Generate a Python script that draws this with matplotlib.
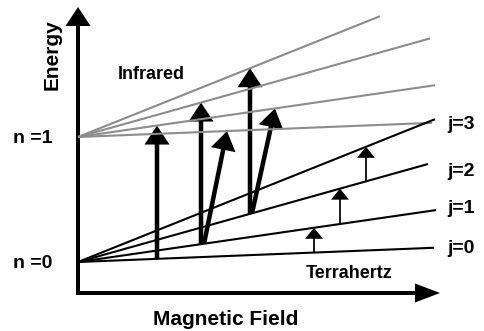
import matplotlib.pyplot as plt

# Zeeman-like fan of levels: E = n + slope[j] * B
n_levels = [0, 1]
j_values = [0, 1, 2, 3]
slopes = [0.04, 0.145, 0.28, 0.40]
# field at which each line stops (n=0 black, n=1 grey)
end_n0 = [2.848, 2.864, 2.80, 2.856]
end_n1 = [2.832, 2.856, 2.816, 2.416]

# infrared transitions n=0 -> n=1: (field start, j start, field end, j end)
ir_b_start = [0.632, 0.984, 1.008, 1.376, 1.392]
ir_j_start = [0, 1, 1, 2, 2]
ir_b_end = [0.632, 0.984, 1.192, 1.376, 1.576]
ir_j_end = [1, 2, 0, 3, 1]

# terahertz transitions inside n=0: j -> j+1
thz_b = [1.888, 2.096, 2.304]
thz_j = [0, 1, 2]

j_labels = ['j=0', 'j=1', 'j=2', 'j=3']
n_labels = ['n =0', 'n =1']


def energy(n, j, b):
    return n + slopes[j] * b


fig = plt.figure(figsize=(4.84, 3.31), dpi=100)
ax = fig.add_axes([0, 0, 1, 1])
ax.set_xlim(-0.624, 3.248)
ax.set_ylim(-0.552, 2.096)
ax.axis('off')
plt.rcParams['font.family'] = 'Liberation Sans'

# level lines
for j in j_values:
    ax.plot([0, end_n0[j]], [energy(0, j, 0), energy(0, j, end_n0[j])],
            color='black', lw=1.5, solid_capstyle='butt')
    ax.plot([0, end_n1[j]], [energy(1, j, 0), energy(1, j, end_n1[j])],
            color='#8c8c8c', lw=1.5, solid_capstyle='butt')

# axes arrows
x_axis_y = -0.248
ax.arrow(-0.016, x_axis_y, 2.912, 0, width=0.032, head_width=0.152,
         head_length=0.2, length_includes_head=True, fc='black', lw=0)
ax.arrow(0, x_axis_y - 0.016, 0, 2.304, width=0.032, head_width=0.2,
         head_length=0.152, length_includes_head=True, fc='black', lw=0)

# infrared arrows
for b0, j0, b1, j1 in zip(ir_b_start, ir_j_start, ir_b_end, ir_j_end):
    y0 = energy(0, j0, b0)
    y1 = energy(1, j1, b1)
    ax.arrow(b0, y0, b1 - b0, y1 - y0, width=0.036, head_width=0.2,
             head_length=0.152, length_includes_head=True, fc='black', lw=0)

# terahertz arrows
for b, j in zip(thz_b, thz_j):
    y0 = energy(0, j, b)
    y1 = energy(0, j + 1, b)
    ax.arrow(b, y0, 0, y1 - y0, width=0.014, head_width=0.144,
             head_length=0.088, length_includes_head=True, fc='black', lw=0)

bold = dict(fontweight='bold', color='black')
for lab, y in zip(j_labels, [0.072, 0.392, 0.688, 1.064]):
    ax.text(2.952, y, lab, fontsize=14, ha='left', va='baseline', **bold)
for lab, y in zip(n_labels, [-0.048, 0.952]):
    ax.text(-0.52, y, lab, fontsize=14, ha='left', va='baseline', **bold)

ax.text(0.32, 1.464, 'Infrared', fontsize=13, ha='left', va='baseline', **bold)
ax.text(2.172, -0.128, 'Terrahertz', fontsize=13, ha='center', va='baseline', **bold)
ax.text(1.184, -0.504, 'Magnetic Field', fontsize=15, ha='center', va='baseline', **bold)
ax.text(-0.208, 1.656, 'Energy', fontsize=15, rotation=90, ha='center', va='center', **bold)

fig.savefig('out.png', dpi=100)
